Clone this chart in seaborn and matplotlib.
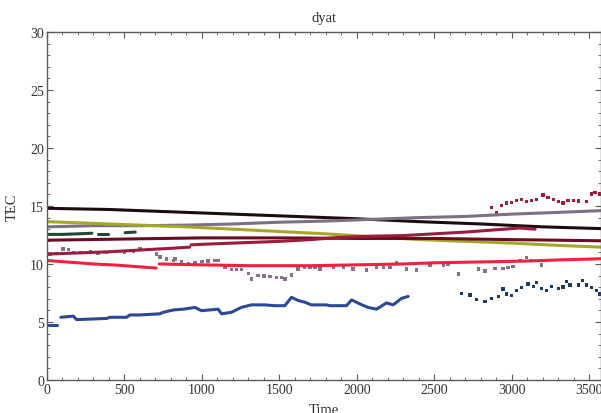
import numpy as np
import pandas as pd
import matplotlib
matplotlib.use("Agg")
import matplotlib.pyplot as plt
from matplotlib.ticker import MultipleLocator
import seaborn as sns

# --- values ---
black_t = [0, 400, 800, 1200, 1600, 2000, 2400, 2800, 3200, 3575]
black_v = [14.8, 14.7, 14.5, 14.3, 14.1, 13.9, 13.65, 13.45, 13.2, 13.05]

grey_t = [0, 300, 600, 900, 1200, 1500, 1800, 2100, 2400, 2700, 3000, 3300, 3575]
grey_v = [13.2, 13.3, 13.3, 13.35, 13.45, 13.6, 13.7, 13.85, 14.0, 14.1, 14.3, 14.45, 14.6]

olive_t = [0, 300, 600, 900, 1200, 1500, 1800, 2100, 2400, 2700, 3000, 3300, 3575]
olive_v = [13.65, 13.5, 13.35, 13.2, 13.0, 12.8, 12.6, 12.35, 12.1, 11.95, 11.8, 11.6, 11.45]

green_t = [5, 100, 200, 290, 330, 395, 505, 570]
green_v = [12.55, 12.55, 12.6, 12.65, 12.6, 12.6, 12.7, 12.75]
green_seg = [0, 0, 0, 0, 1, 1, 2, 2]

maroon_t = [0, 500, 1000, 1500, 2000, 2500, 3000, 3575]
maroon_v = [12.05, 12.15, 12.25, 12.25, 12.2, 12.2, 12.1, 12.0]

crimson_t = [0, 200, 400, 600, 800, 920,
             930, 1100, 1300, 1500, 1700, 1900, 2100, 2300, 2500, 2700, 2900, 3050, 3150]
crimson_v = [10.85, 10.95, 11.05, 11.2, 11.35, 11.45,
             11.65, 11.75, 11.85, 11.95, 12.1, 12.3, 12.4, 12.45, 12.6, 12.75, 12.95, 13.1, 13.0]
crimson_seg = [0] * 6 + [1] * 13

red_t = [0, 150, 300, 450, 600, 705,
         725, 900, 1100, 1300, 1500, 1700, 1900, 2100, 2300, 2500, 2700, 2900, 3100, 3300, 3575]
red_v = [10.3, 10.15, 10.0, 9.9, 9.75, 9.65,
         10.0, 9.95, 9.9, 9.85, 9.85, 9.85, 9.9, 9.95, 10.0, 10.1, 10.15, 10.2, 10.25, 10.35, 10.45]
red_seg = [0] * 6 + [1] * 15

blue_t = [6, 65, 90, 170, 192, 385, 407, 514, 535, 600, 729, 750, 815,
          880, 955, 998, 1105, 1127, 1191, 1256, 1320, 1406, 1471, 1535, 1578,
          1621, 1664, 1707, 1804, 1826, 1933, 1966, 2019, 2073, 2127, 2191,
          2234, 2288, 2331]
blue_v = [4.74, 4.74, 5.4, 5.5, 5.2, 5.3, 5.4, 5.4, 5.6, 5.6, 5.7, 5.83, 6.03,
          6.1, 6.25, 5.97, 6.1, 5.7, 5.83, 6.26, 6.47, 6.47, 6.4, 6.4, 7.12,
          6.85, 6.7, 6.47, 6.47, 6.4, 6.4, 6.9, 6.55, 6.25, 6.1, 6.64,
          6.47, 7.03, 7.2]
blue_seg = [0, 0] + [1] * 37

# scattered series (dots)
mauve_t = [19, 60, 105, 140, 170, 220, 280, 330, 385, 440, 500, 560, 600, 650, 707,
           729, 772, 815, 826, 870, 912, 955, 1000, 1040, 1084, 1105, 1148, 1191,
           1225, 1256, 1299, 1320, 1363, 1400, 1440, 1480, 1514, 1535, 1578, 1621,
           1664, 1697, 1729, 1761, 1804, 1850, 1912, 1976, 2062, 2127, 2170, 2213,
           2256, 2320, 2385, 2471, 2557, 2589, 2654, 2783, 2826, 2890, 2944, 2976,
           3008, 3052, 3095, 3127, 3191]
mauve_v = [10.86, 10.9, 11.3, 11.25, 11.0, 11.0, 11.05, 10.95, 11.0, 11.05, 11.0, 11.1, 11.3,
           11.25, 10.86, 10.6, 10.43, 10.3, 10.43, 10.2, 10.0, 10.15, 10.2, 10.25, 10.3,
           10.3, 9.7, 9.5, 9.5, 9.5, 9.2, 8.7, 9.0, 8.95, 8.9, 8.85, 8.85, 8.7, 9.05,
           9.57, 9.7, 9.7, 9.7, 9.57, 9.85, 9.75, 9.7, 9.57, 9.48, 9.7, 9.7, 9.7,
           10.14, 9.57, 9.48, 9.85, 9.85, 10.0, 9.14, 9.57, 9.4, 9.63, 9.63, 9.7,
           9.8, 10.3, 10.57, 10.3, 9.9]

upper_t = [2869, 2901, 2933, 2966, 2998, 3030, 3063, 3095, 3127, 3159, 3202,
           3234, 3267, 3299, 3331, 3363, 3396, 3428, 3482, 3514, 3535, 3568]
upper_v = [14.88, 14.45, 15.03, 15.26, 15.3, 15.45, 15.54, 15.37, 15.5, 15.54, 15.95,
           15.74, 15.54, 15.37, 15.26, 15.45, 15.45, 15.43, 15.37, 16.03, 16.17, 16.03]

teal_t = [2675, 2729, 2772, 2826, 2869, 2912, 2944, 2966, 2998, 3030, 3063, 3105,
          3138, 3159, 3191, 3224, 3256, 3299, 3331, 3353, 3374, 3428, 3454, 3482,
          3514, 3546, 3568]
teal_v = [7.47, 7.33, 6.92, 6.75, 7.03, 7.2, 7.84, 7.41, 7.27, 7.7, 7.98, 8.27,
          8.07, 8.4, 7.9, 7.7, 8.07, 7.9, 8.0, 8.48, 8.19, 8.19, 8.56, 8.19,
          7.98, 7.7, 7.41]

line_colors = {
    "black": "#1c0c12",
    "grey": "#7c7084",
    "olive": "#a4a82a",
    "green": "#1f4a30",
    "maroon": "#6c0c20",
    "crimson": "#9c1c3e",
    "red": "#f0203e",
    "blue": "#2c4898",
}
dot_colors = {
    "mauve": "#86708a",
    "upper": "#a01c38",
    "teal": "#1d3c5c",
}


def frame(name, t, v, seg=None):
    if seg is None:
        seg = [0] * len(t)
    return pd.DataFrame({"series": name, "time": t, "tec": v, "seg": seg})


lines = pd.concat([
    frame("black", black_t, black_v),
    frame("grey", grey_t, grey_v),
    frame("olive", olive_t, olive_v),
    frame("green", green_t, green_v, green_seg),
    frame("maroon", maroon_t, maroon_v),
    frame("crimson", crimson_t, crimson_v, crimson_seg),
    frame("blue", blue_t, blue_v, blue_seg),
    frame("red", red_t, red_v, red_seg),
], ignore_index=True)

dots = pd.concat([
    frame("mauve", mauve_t, mauve_v),
    frame("upper", upper_t, upper_v),
    frame("teal", teal_t, teal_v),
], ignore_index=True)

sns.set_style("ticks")
plt.rcParams["font.family"] = ["Liberation Serif", "DejaVu Serif"]

fig = plt.figure(figsize=(6.01, 4.14), dpi=100)
ax = fig.add_axes([0.078, 0.08, 0.922, 0.84])

sns.lineplot(data=lines, x="time", y="tec", hue="series", units="seg",
             estimator=None, sort=False, palette=line_colors, linewidth=2.2,
             legend=False, ax=ax)
sns.scatterplot(data=dots, x="time", y="tec", hue="series", palette=dot_colors,
                s=6, marker="s", linewidth=0, legend=False, ax=ax)

ax.set_xlim(0, 3575)
ax.set_ylim(0, 30)
ax.xaxis.set_major_locator(MultipleLocator(500))
ax.xaxis.set_minor_locator(MultipleLocator(100))
ax.yaxis.set_major_locator(MultipleLocator(5))
ax.yaxis.set_minor_locator(MultipleLocator(1))

frame_col = "#5a5a5a"
for s in ax.spines.values():
    s.set_color(frame_col)
    s.set_linewidth(1.0)
ax.tick_params(which="both", direction="in", top=True, right=True, color=frame_col,
               labelsize=10, labelcolor="#333333", pad=2)
ax.tick_params(which="major", length=4)
ax.tick_params(which="minor", length=2)

ax.set_title("dyat", fontsize=10.5, color="#333333", pad=8)
ax.set_xlabel("Time", fontsize=10.5, color="#333333", labelpad=5)
ax.set_ylabel("TEC", fontsize=10.5, color="#333333", labelpad=8)

fig.savefig("out.png", dpi=100)
